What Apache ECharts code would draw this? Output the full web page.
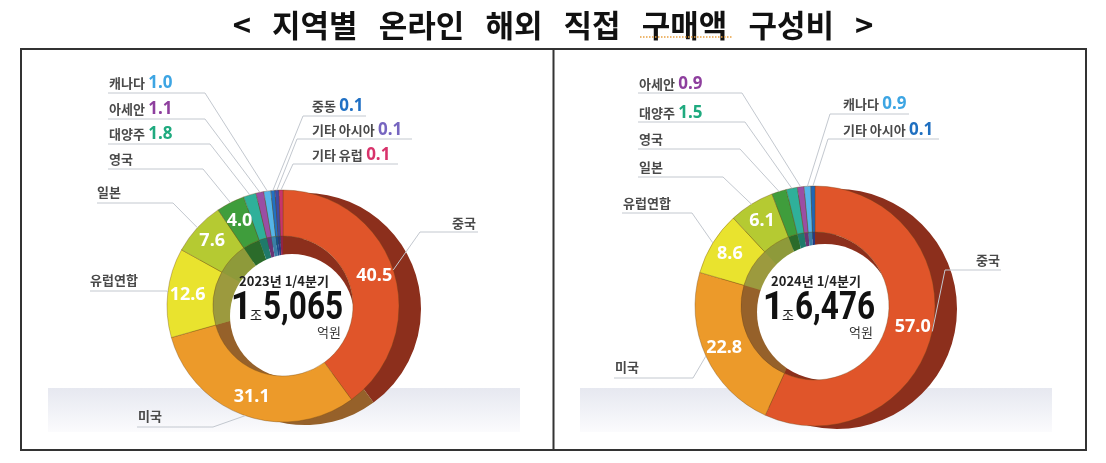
<!DOCTYPE html>
<html><head><meta charset="utf-8">
<script src="https://cdn.jsdelivr.net/npm/echarts@6/dist/echarts.min.js"></script>
<style>html,body{margin:0;padding:0;background:#fff}#c{width:1106px;height:463px}</style>
</head><body><div id="c"></div>
<script>
// ---------- data ----------
const titleText = '<   지역별   온라인   해외   직접   구매액   구성비   >';
const periods = ['2023년 1/4분기', '2024년 1/4분기'];
const totalJo = ['1', '1'];
const totalEok = ['5,065', '6,476'];

const regions2023 = ['중국','미국','유럽연합','일본','영국','대양주','아세안','캐나다','중동','기타 아시아','기타 유럽'];
const shares2023  = [40.5, 31.1, 12.6, 7.6, 4.0, 1.8, 1.1, 1.0, 0.1, 0.1, 0.1];
const regions2024 = ['중국','미국','유럽연합','일본','영국','대양주','아세안','캐나다','기타 아시아'];
const shares2024  = [57.0, 22.8, 8.6, 6.1, 2.0, 1.5, 0.9, 0.9, 0.1];

// ---------- styles ----------
const faceColorL = {'중국':'#E0552A','미국':'#EC9A2A','유럽연합':'#E9E32E','일본':'#B5CA32','영국':'#3F9D3C','대양주':'#2FB09A','아세안':'#9A4EA4','캐나다':'#55B4E8','중동':'#2070C4','기타 아시아':'#3E4BA6','기타 유럽':'#C8356A'};
const faceColorR = {'중국':'#E0552A','미국':'#EC9A2A','유럽연합':'#E9E32E','일본':'#B5CA32','영국':'#3F9D3C','대양주':'#2FB09A','아세안':'#9A4EA4','캐나다':'#55B4E8','기타 아시아':'#1F66B5'};
const wallColor = {'중국':'#8C2F1C','미국':'#96612A','유럽연합':'#9C9A3E','일본':'#8E9A3A','영국':'#2B6B2A','대양주':'#1F7A6A','아세안':'#6A3475','캐나다':'#3A7EA6','중동':'#1A4E8A','기타 아시아':'#2A3A80','기타 유럽':'#902446'};
const valColorL = {'캐나다':'#3DA5E3','아세안':'#8E3F9E','대양주':'#1FAA7F','중동':'#2070C4','기타 아시아':'#7665C0','기타 유럽':'#D8336B'};
const valColorR = {'아세안':'#8E3F9E','대양주':'#1FAA7F','캐나다':'#3DA5E3','기타 아시아':'#1F6FC0'};

const geo = [
  {cx:283, cy:306, R:116, r:70, wall:[22,3], hole:[292,316,62]},
  {cx:815, cy:306, R:120, r:74, wall:[22,3], hole:[825,312,68]}
];

const layL = {
  '중국':{tx:476,ty:223,align:'right',elbow:[420,232],end:[478,232]},
  '미국':{tx:138,ty:416,align:'left',elbow:[213,427],end:[137,427]},
  '유럽연합':{tx:90,ty:280,align:'left',elbow:[167,291],end:[90,291]},
  '일본':{tx:97,ty:192,align:'left',elbow:[173,203],end:[97,203]},
  '영국':{tx:109,ty:159,align:'left',elbow:[203,169],end:[108,169]},
  '대양주':{tx:109,ty:134,align:'left',elbow:[210,144],end:[108,144]},
  '아세안':{tx:109,ty:109,align:'left',elbow:[205,119],end:[108,119]},
  '캐나다':{tx:109,ty:83,align:'left',elbow:[205,93],end:[108,93]},
  '중동':{tx:312,ty:106,align:'left',elbow:[303,116],end:[366,116]},
  '기타 아시아':{tx:312,ty:130,align:'left',elbow:[297,139],end:[412,139]},
  '기타 유럽':{tx:312,ty:155,align:'left',elbow:[293,164],end:[398,164]}
};
const layR = {
  '중국':{tx:1000,ty:260,align:'right',elbow:[945,270],end:[1001,270]},
  '미국':{tx:615,ty:367,align:'left',elbow:[693,378],end:[614,378]},
  '유럽연합':{tx:623,ty:203,align:'left',elbow:[692,213],end:[622,213]},
  '일본':{tx:639,ty:167,align:'left',elbow:[723,177],end:[638,177]},
  '영국':{tx:639,ty:139,align:'left',elbow:[740,149],end:[638,149]},
  '대양주':{tx:639,ty:113,align:'left',elbow:[745,122],end:[638,122]},
  '아세안':{tx:639,ty:84,align:'left',elbow:[742,93],end:[638,93]},
  '캐나다':{tx:843,ty:104,align:'left',elbow:[830,114],end:[909,114]},
  '기타 아시아':{tx:843,ty:130,align:'left',elbow:[828,139],end:[939,139]}
};

const KR = "'Noto Sans CJK KR', 'Noto Sans', sans-serif";
const NUM = "'Noto Sans', 'Noto Sans CJK KR', sans-serif";
const BIG = "Roboto, 'Noto Sans', sans-serif";

function buildSeries(ci, regions, shares, faceColor, valColor, lay) {
  const g = geo[ci];
  const base = {type:'pie', startAngle:90, clockwise:true, minAngle:2, avoidLabelOverlap:false,
                animation:false, silent:true, label:{show:false}, labelLine:{show:false}};
  const mk = (cmap) => regions.map((n,i)=>({name:n, value:shares[i], itemStyle:{color:cmap[n]}}));
  const out = [];
  out.push(Object.assign({}, base, {z:1, center:[g.cx+g.wall[0], g.cy+g.wall[1]], radius:[g.r, g.R], data:mk(wallColor)}));
  out.push(Object.assign({}, base, {z:2, center:[g.cx, g.cy], radius:[0, g.r], data:mk(wallColor)}));
  out.push(Object.assign({}, base, {z:3, center:[g.hole[0], g.hole[1]], radius:[0, g.hole[2]],
           data:[{name:'hole', value:1, itemStyle:{color:'#ffffff'}}]}));
  out.push(Object.assign({}, base, {z:4, center:[g.cx, g.cy], radius:[g.r, g.R], data:mk(faceColor),
      itemStyle:{borderColor:'rgba(110,70,20,0.35)', borderWidth:1},
      label:{show:true, position:'inside', color:'#fff', fontSize:18, fontWeight:'bold', fontFamily:NUM,
             formatter:(p)=> p.value >= 2 ? p.value.toFixed(1) : ''}}));
  const rich = {n:{fontSize:13, color:'#4a4a4a', fontWeight:'bold', fontFamily:KR}};
  regions.forEach((n,i)=>{ if (valColor[n]) rich['v'+i] = {fontSize:17, fontWeight:'bold', color:valColor[n], fontFamily:NUM}; });
  out.push(Object.assign({}, base, {z:5, center:[g.cx, g.cy], radius:[g.r, g.R],
      data: regions.map((n,i)=>({name:n, value:shares[i], itemStyle:{color:'rgba(0,0,0,0)'}})),
      label:{show:true, position:'outside', rich:rich,
             formatter:(p)=> p.value < 2 ? '{n|'+p.name+'} {v'+p.dataIndex+'|'+p.value.toFixed(1)+'}' : '{n|'+p.name+'}'},
      labelLine:{show:true, length:10, length2:10, lineStyle:{color:'#C3C8CF', width:1}},
      labelLayout:(params)=>{
        const L = lay[regions[params.dataIndex]];
        const pts = params.labelLinePoints;
        const res = {x:L.tx, y:L.ty, align:L.align, verticalAlign:'middle'};
        if (pts && pts.length) res.labelLinePoints = [pts[0], L.elbow, L.end];
        return res;
      }}));
  return out;
}

const series = [].concat(
  buildSeries(0, regions2023, shares2023, faceColorL, valColorL, layL),
  buildSeries(1, regions2024, shares2024, faceColorR, valColorR, layR)
);

function bandRect(x, w) {
  return {type:'rect', z:0, silent:true, shape:{x:x, y:388, width:w, height:44},
    style:{fill:new echarts.graphic.LinearGradient(0,0,0,1,[{offset:0,color:'#E6E8F0'},{offset:1,color:'#FBFBFD'}])}};
}
function txt(x, y, text, size, align, extra, sx) {
  return {type:'text', z:20, x:x, y:y, scaleX:sx || 1, silent:true, style:Object.assign({text:text, fontSize:size, fontFamily:KR, fill:'#222',
    align:align, verticalAlign:'middle', textAlign:align, textVerticalAlign:'middle'}, extra || {})};
}
function centerTexts(ci) {
  const g = geo[ci];
  return [
    txt(g.cx+1, g.cy-25, periods[ci], 13, 'center', {fontWeight:'bold'}),
    txt(g.cx-31, g.cy+3, totalJo[ci], 39, 'right', {fontWeight:'bold', fontFamily:BIG, fill:'#111'}, 0.95),
    txt(g.cx-33, g.cy+9, '조', 13, 'left', {fill:'#222'}),
    txt(g.cx-20, g.cy+3, totalEok[ci], 38, 'left', {fontWeight:'bold', fontFamily:BIG, fill:'#111'}, 0.83),
    txt(g.cx+58, g.cy+26, '억원', 13, 'right', {fill:'#333'})
  ];
}

const graphic = [
  bandRect(48, 472), bandRect(580, 472),
  {type:'rect', z:30, silent:true, shape:{x:21, y:49, width:1065, height:401}, style:{fill:'none', stroke:'#333', lineWidth:2}},
  {type:'line', z:30, silent:true, shape:{x1:553.5, y1:49, x2:553.5, y2:450}, style:{stroke:'#333', lineWidth:2}},
  txt(553, 25, titleText, 31, 'center', {fontWeight:'bold', fill:'#111'}),
  {type:'line', z:30, silent:true, shape:{x1:640, y1:37, x2:732, y2:37}, style:{stroke:'#E8A040', lineWidth:1.5, lineDash:[1.5,1.5]}}
].concat(centerTexts(0), centerTexts(1));

const chart = echarts.init(document.getElementById('c'), null, {renderer:'canvas'});
chart.setOption({backgroundColor:'#fff', animation:false, series:series, graphic:graphic});
</script>
</body></html>
